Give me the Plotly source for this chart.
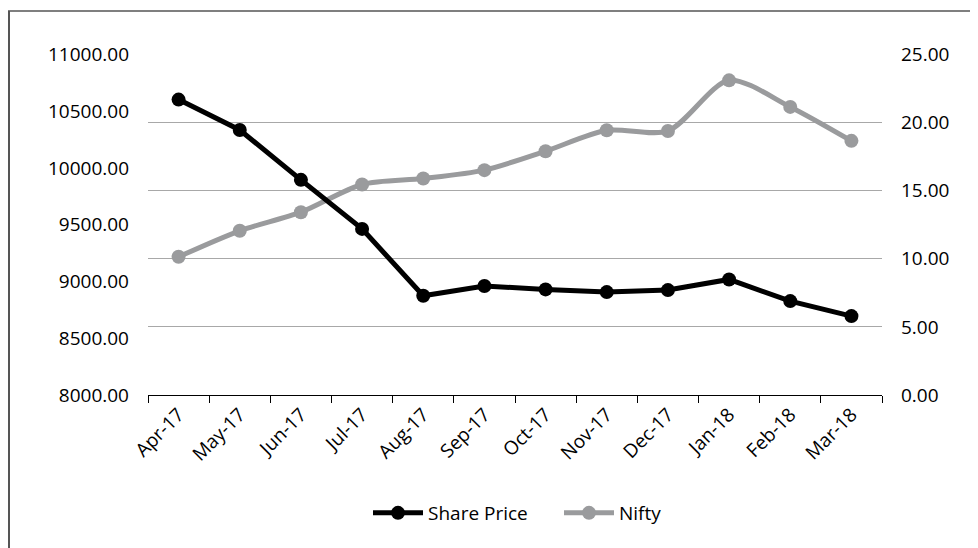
import plotly.graph_objects as go

months = ["Apr-17", "May-17", "Jun-17", "Jul-17", "Aug-17", "Sep-17",
          "Oct-17", "Nov-17", "Dec-17", "Jan-18", "Feb-18", "Mar-18"]
share_price = [21.68, 19.45, 15.79, 12.19, 7.28, 8.00, 7.75, 7.55, 7.70, 8.48, 6.89, 5.79]
nifty = [9217, 9446, 9610, 9854, 9906, 9980, 10147, 10331, 10325, 10771, 10537, 10238]

# the page body has an 8px margin, so work in reference pixels minus 8
OFF = 8
W, H = 978, 548
L, T = 148 - OFF, 54 - OFF
pw, ph = 734, 341
R = W - L - pw
B = H - T - ph

def px(x):
    return (x - OFF - L) / pw

def py(y):
    return (T + ph - (y - OFF)) / ph

FONT = "Open Sans"
EPS = 0.025  # so the top gridline at 25 is drawn

fig = go.Figure()
fig.add_trace(go.Scatter(
    x=months, y=share_price, name="Share Price", yaxis="y2",
    mode="lines+markers",
    line=dict(color="#000000", width=5),
    marker=dict(color="#000000", size=14),
))
fig.add_trace(go.Scatter(
    x=months, y=nifty, name="Nifty", yaxis="y",
    mode="lines+markers",
    line=dict(color="#9a9b9d", width=5, shape="spline", smoothing=0.8),
    marker=dict(color="#9a9b9d", size=14),
))

fig.update_layout(
    width=W, height=H,
    margin=dict(l=L, r=R, t=T, b=B, autoexpand=False),
    paper_bgcolor="white", plot_bgcolor="white",
    font=dict(family=FONT, size=19, color="#000000"),
    showlegend=True,
    legend=dict(orientation="h", x=px(368), y=py(513), xanchor="left", yanchor="middle",
                font=dict(size=19), entrywidth=126, entrywidthmode="pixels",
                itemwidth=50, bgcolor="rgba(0,0,0,0)"),
    xaxis=dict(
        type="category", range=[-0.5, len(months) - 0.5],
        showgrid=False, showline=True, linecolor="#000000", linewidth=1.2,
        ticks="outside", tickson="boundaries", ticklen=7, tickcolor="#000000", tickwidth=1.2,
        tickangle=-45, tickfont=dict(size=19), zeroline=False,
    ),
    yaxis=dict(
        range=[8000, 11000 + EPS * 120], tickvals=[8000, 8500, 9000, 9500, 10000, 10500, 11000],
        tickformat=".2f",
        showgrid=False, zeroline=False, showline=False, ticks="",
        ticklabelstandoff=18,
    ),
    yaxis2=dict(
        range=[0, 25 + EPS], tickvals=[0, 5, 10, 15, 20, 25], tickformat=".2f",
        overlaying="y", side="right",
        showgrid=True, gridcolor="#a8a8a8", gridwidth=1.3,
        zeroline=False, showline=False, ticks="",
        ticklabelstandoff=18,
    ),
    shapes=[
        dict(type="line", xref="paper", yref="paper",
             x0=(1 - L) / pw, x1=(1 - L) / pw, y0=py(11), y1=py(570),
             line=dict(color="#555555", width=2)),
        dict(type="line", xref="paper", yref="paper",
             x0=(0 - L) / pw, x1=px(1000), y0=py(11), y1=py(11),
             line=dict(color="#555555", width=1.5)),
    ],
)

fig.write_html("out.html")
